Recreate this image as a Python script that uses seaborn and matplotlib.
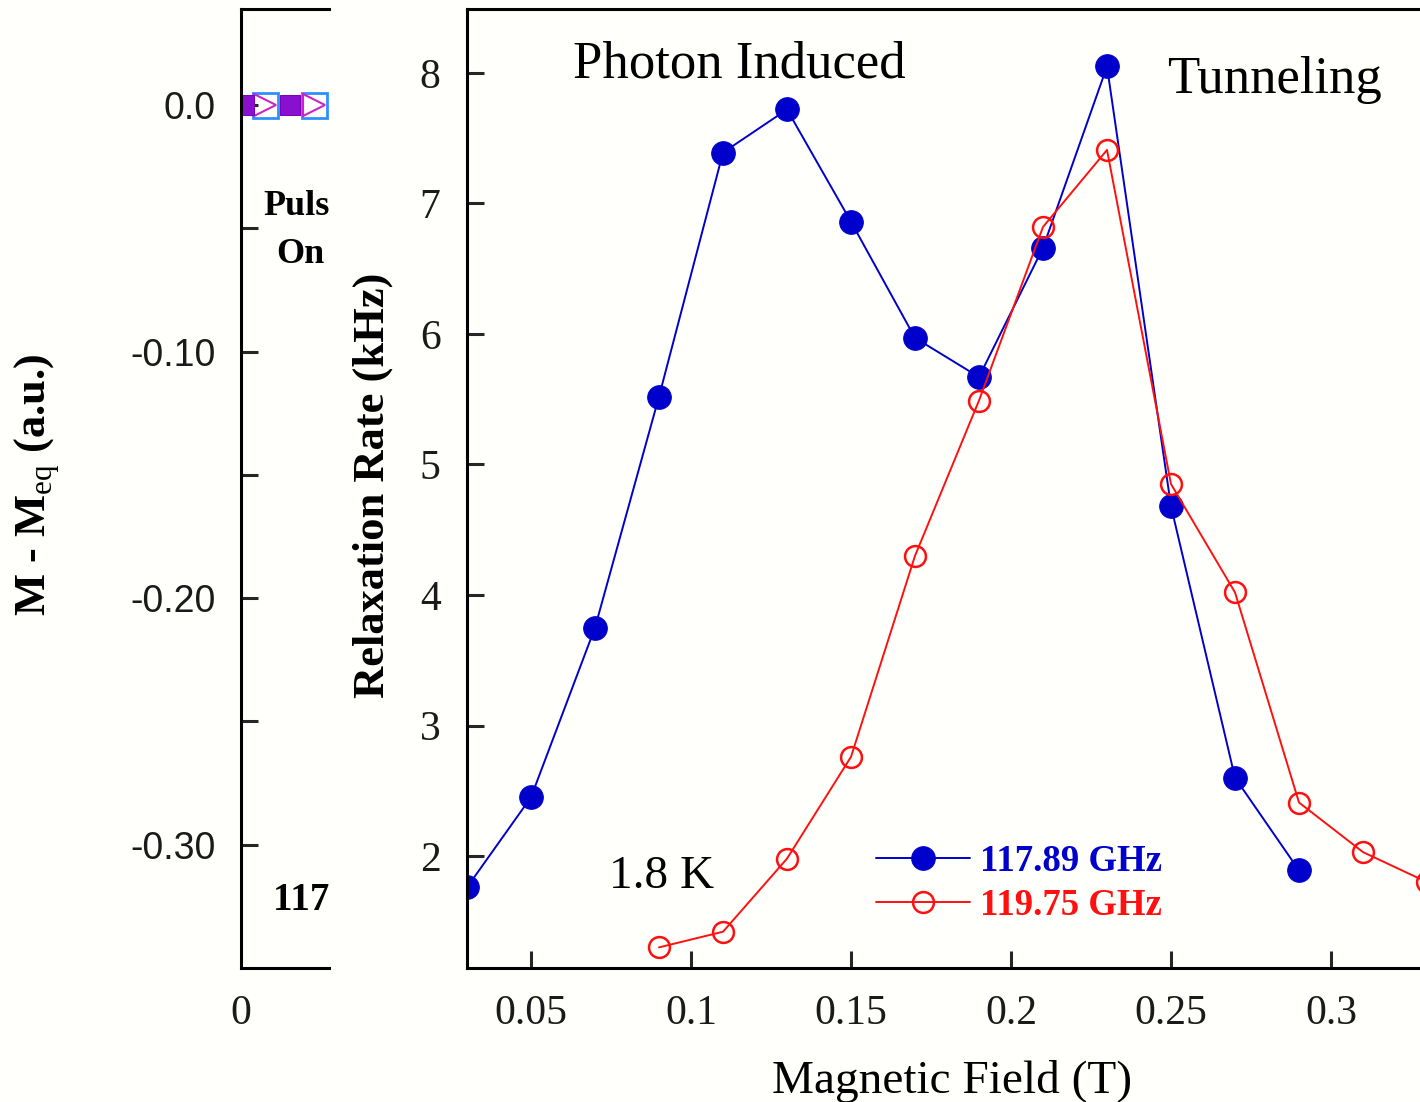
import matplotlib
matplotlib.use("Agg")
import matplotlib.pyplot as plt
import seaborn as sns
import pandas as pd

# Relaxation rate vs magnetic field at two microwave frequencies (T = 1.8 K)
field_117 = [0.03, 0.05, 0.07, 0.09, 0.11, 0.13, 0.15, 0.17, 0.19, 0.21, 0.23, 0.25, 0.27, 0.29]
rate_117 = [1.76, 2.45, 3.75, 5.52, 7.39, 7.72, 6.86, 5.97, 5.67, 6.66, 8.05, 4.68, 2.60, 1.89]

field_119 = [0.09, 0.11, 0.13, 0.15, 0.17, 0.19, 0.21, 0.23, 0.25, 0.27, 0.29, 0.31, 0.33]
rate_119 = [1.30, 1.42, 1.98, 2.76, 4.30, 5.49, 6.82, 7.41, 4.85, 4.02, 2.41, 2.03, 1.80]

series_labels = ["117.89 GHz", "119.75 GHz"]

field_ticks = [0.05, 0.1, 0.15, 0.2, 0.25, 0.3]
field_tick_labels = ["0.05", "0.1", "0.15", "0.2", "0.25", "0.3"]
rate_ticks = [2, 3, 4, 5, 6, 7, 8]

# Magnetization trace panel (only its left edge is shown)
pulse_on_time = [0.3, 4.9]
pulse_on_m = [0.0, 0.0]
pulse_off_time = [2.4, 7.3]
pulse_off_m = [0.0, 0.0]
m_ticks = [0.0, -0.05, -0.10, -0.15, -0.20, -0.25, -0.30]
m_tick_labels = ["0.0", "", "-0.10", "", "-0.20", "", "-0.30"]
time_ticks = [0]
time_tick_labels = ["0"]

BLUE = "#0000cc"
RED = "#ff1010"
BG = "#fffffb"
TICK_TXT = "#1a1a1a"
SERIF = ["Liberation Serif", "DejaVu Serif"]

sns.set_theme(style="ticks")
plt.rcParams["font.family"] = SERIF
plt.rcParams["mathtext.fontset"] = "custom"
plt.rcParams["mathtext.rm"] = "Liberation Serif"
plt.rcParams["axes.linewidth"] = 2.2
plt.rcParams["text.color"] = "black"
plt.rcParams["axes.labelcolor"] = "black"

W, H = 1420, 1102
fig = plt.figure(figsize=(W / 100, H / 100), dpi=100)
fig.patch.set_facecolor(BG)

ax_m = fig.add_axes([241 / W, 1 - 968 / H, 88 / W, 959 / H])
ax = fig.add_axes([467 / W, 1 - 968 / H, 992 / W, 959 / H])
for a in (ax_m, ax):
    a.set_facecolor(BG)
    for s in a.spines.values():
        s.set_color("black")
        s.set_linewidth(2.2)

# ---- left panel: magnetization ----
ax_m.spines["right"].set_visible(False)
sns.lineplot(x=pulse_off_time, y=pulse_off_m, ax=ax_m, linestyle="", marker="s",
             markersize=18, markerfacecolor="none", markeredgecolor="#2f8fff",
             markeredgewidth=2, estimator=None, sort=False)
sns.lineplot(x=pulse_off_time, y=pulse_off_m, ax=ax_m, linestyle="", marker=">",
             markersize=16, markerfacecolor="none", markeredgecolor="#cc22cc",
             markeredgewidth=1.5, estimator=None, sort=False)
sns.lineplot(x=pulse_on_time, y=pulse_on_m, ax=ax_m, linestyle="", marker="s",
             markersize=14, markerfacecolor="#8a10d0", markeredgecolor="#7a00c0",
             estimator=None, sort=False)
ax_m.set_xlim(0, 8.8)
ax_m.set_ylim(-0.35, 0.039)
ax_m.set_yticks(m_ticks, m_tick_labels)
ax_m.set_xticks(time_ticks, time_tick_labels)
ax_m.tick_params(axis="y", direction="in", length=12, width=2.2, labelsize=27,
                 pad=18.5, labelcolor=TICK_TXT)
ax_m.tick_params(axis="x", direction="in", length=0, labelsize=30, pad=19,
                 labelcolor=TICK_TXT)
for lbl in ax_m.get_yticklabels():
    lbl.set_family(["Liberation Sans", "DejaVu Sans"])
ax_m.set_ylabel(r"M - M$_{\rm eq}$ (a.u.)", fontsize=32, fontweight="bold")
ax_m.yaxis.label.set_va("center")
ax_m.yaxis.set_label_coords((37 - 241) / 88, (968 - 485) / 959)

for txt, xp, yp in [("Pulse", 263, 215), ("On", 276, 263)]:
    ax_m.text(xp / W, 1 - yp / H, txt, transform=fig.transFigure, ha="left",
              va="baseline", fontsize=26, fontweight="bold", clip_on=True)
ax_m.text(273 / W, 1 - 910 / H, "117.89 GHz", transform=fig.transFigure, ha="left",
          va="baseline", fontsize=28, fontweight="bold", clip_on=True)

# ---- main panel: relaxation rate ----
sns.lineplot(x=field_117, y=rate_117, ax=ax, color=BLUE, linewidth=1.4,
             marker="o", markersize=17, markerfacecolor=BLUE, markeredgecolor=BLUE,
             label=series_labels[0], estimator=None, sort=False)
sns.lineplot(x=field_119, y=rate_119, ax=ax, color=RED, linewidth=1.4,
             marker="o", markersize=15, markerfacecolor="none", markeredgecolor=RED,
             markeredgewidth=1.8, label=series_labels[1], estimator=None, sort=False)

ax.set_xlim(0.03, 0.34)
ax.set_ylim(1.142, 8.49)
ax.set_xticks(field_ticks, field_tick_labels)
ax.set_yticks(rate_ticks)
ax.tick_params(direction="in", length=12, width=2.2, labelsize=30, pad=19,
               labelcolor=TICK_TXT)

ax.set_xlabel("Magnetic Field (T)", fontsize=34)
ax.xaxis.set_label_coords((952 - 467) / 992, (968 - 1060) / 959)
ax.set_ylabel("Relaxation Rate (kHz)", fontsize=32, fontweight="bold")
ax.yaxis.label.set_va("center")
ax.yaxis.set_label_coords((373 - 467) / 992, (968 - 485) / 959)

ax.legend(loc="upper left", bbox_to_anchor=(876 / W, 1 - 844 / H),
          bbox_transform=fig.transFigure, frameon=False,
          prop=dict(family=SERIF, weight="bold", size=26.5),
          handlelength=2.55, handletextpad=0.28, labelspacing=0.25,
          borderpad=0, borderaxespad=0, labelcolor="linecolor", numpoints=1)

fig.text(573 / W, 1 - 78 / H, "Photon Induced", fontsize=38, va="baseline")
fig.text(1167 / W, 1 - 93 / H, "Tunneling", fontsize=38, va="baseline")
fig.text(609 / W, 1 - 888 / H, "1.8 K", fontsize=34, va="baseline")

fig.savefig("out.png", dpi=100, facecolor=BG)
